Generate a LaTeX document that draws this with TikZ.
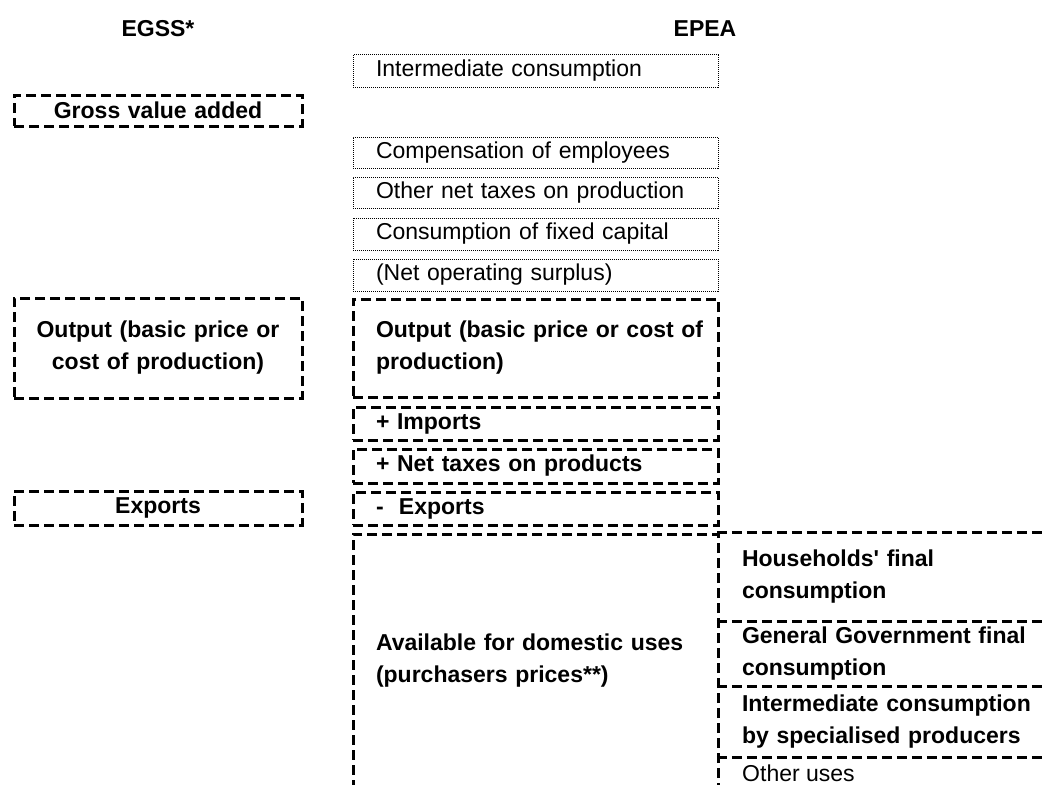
\documentclass[tikz,border=0pt]{standalone}
\usepackage{fontspec}
\setmainfont{Liberation Sans}
\begin{document}
\begin{tikzpicture}[x=1pt,y=-1pt,
  every node/.style={font=\fontsize{23}{32}\selectfont},
  dashline/.style={line width=3pt,dash pattern=on 10pt off 5pt},
  dashbox/.style={draw,dashline,inner ysep=0pt,font=\fontsize{23}{32}\selectfont\bfseries},
  dotbox/.style={draw,line width=1pt,dash pattern=on 1pt off 1pt,inner ysep=0pt,inner xsep=23pt,text width=319pt,align=left},
  egssbox/.style={dashbox,inner xsep=10pt,text width=268pt,align=center},
  epeabox/.style={dashbox,inner xsep=23pt,text width=319pt,align=left},
  usesbox/.style={inner ysep=0pt,inner xsep=25pt,text width=293pt,align=left,font=\fontsize{23}{32}\selectfont\bfseries},
  head/.style={font=\fontsize{23}{32}\selectfont\bfseries,anchor=base}]
\useasboundingbox (0,0) rectangle (1043,784);
\clip (0,0) rectangle (1043,784);

\node[head] (egss) at (158,37) {EGSS*};
\node[head] (epea) at (705,37) {EPEA};

\node[egssbox,minimum height=31pt] (gva) at (158,110.5) {Gross value added};
\node[egssbox,minimum height=100pt] (outL) at (158,348) {Output (basic price or\\cost of production)};
\node[egssbox,minimum height=34pt] (expL) at (158,508) {Exports};

\node[dotbox,minimum height=32pt] (ic) at (535.5,71) {Intermediate consumption};
\node[dotbox,minimum height=31pt] (coe) at (535.5,152.5) {Compensation of employees};
\node[dotbox,minimum height=31pt] (ont) at (535.5,192.5) {Other net taxes on production};
\node[dotbox,minimum height=32pt] (cfc) at (535.5,234) {Consumption of fixed capital};
\node[dotbox,minimum height=32pt] (nos) at (535.5,275) {(Net operating surplus)};

\node[epeabox,minimum height=98pt] (outM) at (535.5,348) {\mbox{Output (basic price or cost of}\\production)};
\node[epeabox,minimum height=33pt] (imp) at (535.5,423.5) {+ Imports};
\node[epeabox,minimum height=34pt] (ntp) at (535.5,466) {+ Net taxes on products};
\node[epeabox,minimum height=33pt] (expM) at (535.5,508.5) {-\ \ Exports};
\node[epeabox,minimum height=254pt] (avail) at (535.5,661) {Available for domestic uses\\(purchasers prices**)};

\node[usesbox,minimum height=88pt] (hh) at (888.5,577) {Households\textquotesingle\ final\\consumption};
\node[usesbox,minimum height=65pt] (gg) at (888.5,653.5) {General Government final\\consumption};
\node[usesbox,minimum height=71pt] (icsp) at (888.5,721.5) {Intermediate consumption\\by specialised producers};
\node[anchor=base west,inner sep=0pt] (other) at (742,781) {Other uses};

\draw[dashline] (hh.north west) -- (hh.north east);
\draw[dashline] (hh.south west) -- (hh.south east);
\draw[dashline] (gg.south west) -- (gg.south east);
\draw[dashline] (icsp.south west) -- (icsp.south east);
\end{tikzpicture}
\end{document}
